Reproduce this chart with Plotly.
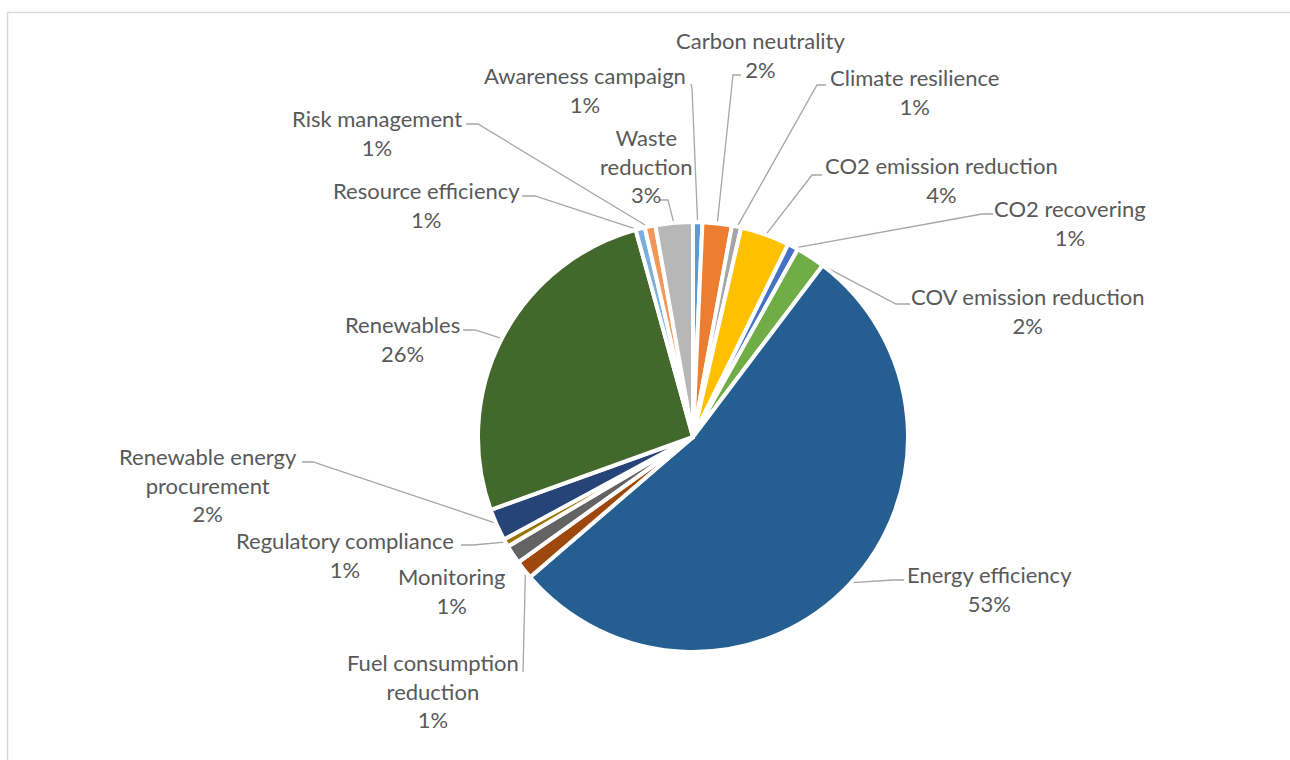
import math
import plotly.graph_objects as go

# ---------------- data ----------------
categories = [
    "Awareness campaign", "Carbon neutrality", "Climate resilience",
    "CO2 emission reduction", "CO2 recovering", "COV emission reduction",
    "Energy efficiency", "Fuel consumption reduction", "Monitoring",
    "Regulatory compliance", "Renewable energy procurement", "Renewables",
    "Resource efficiency", "Risk management", "Waste reduction",
]
values = [0.7, 2.2, 0.7, 3.7, 0.8, 2.2, 53.4, 1.4, 1.4, 0.6, 2.4, 26.2, 0.7, 0.8, 2.8]
label_text = [
    "Awareness campaign", "Carbon neutrality", "Climate resilience",
    "CO2 emission reduction", "CO2 recovering", "COV emission reduction",
    "Energy efficiency", "Fuel consumption<br>reduction", "Monitoring",
    "Regulatory compliance", "Renewable energy<br>procurement", "Renewables",
    "Resource efficiency", "Risk management", "Waste<br>reduction",
]

# ---------------- styles / layout ----------------
colors = [
    "#5B9BD5", "#ED7D31", "#A5A5A5", "#FFC000", "#4472C4", "#70AD47",
    "#255E91", "#9E480E", "#636363", "#997300", "#264478", "#43682B",
    "#7CAFDD", "#F1975A", "#B7B7B7",
]

W, H = 1290, 760
CX, CY, R = 693, 437, 215
EDGE_R = 213

# label block centres (page pixels)
label_pos = [
    (585, 90), (761, 55), (914, 92), (941, 180), (1070, 223), (1028, 311),
    (989, 589), (433, 691), (451, 591), (345, 555), (208, 485), (402, 339),
    (426, 205), (377, 133), (646, 166),
]
# leader line stubs at the label end (page pixels); None = no leader
stubs = [
    [(691, 84), (692, 88)],
    [(741, 75), (733, 75)],
    [(826, 85), (817, 85)],
    [(822, 175), (812, 175)],
    [(993, 214), (982, 214)],
    [(910, 304), (896, 304)],
    [(904, 580), (893, 580)],
    [(523, 672)],
    None,
    [(461, 545), (473, 545)],
    [(302, 462), (313, 462)],
    [(463, 330), (475, 330)],
    [(522, 196), (535, 196)],
    [(466, 124), (478, 124)],
    [(660, 200), (668, 200)],
]

total = sum(values)
pct = [round(v / total * 100) for v in values]

fig = go.Figure()

fig.add_trace(go.Pie(
    labels=categories, values=values, sort=False, direction="clockwise",
    rotation=0,
    marker=dict(colors=colors, line=dict(color="white", width=4)),
    textinfo="none", hoverinfo="label+percent",
    domain=dict(x=[(CX - R) / W, (CX + R) / W], y=[1 - (CY + R) / H, 1 - (CY - R) / H]),
    showlegend=False,
))

# leader lines
cum = 0.0
for i, v in enumerate(values):
    mid = (cum + v / 2) / total * 2 * math.pi
    cum += v
    if stubs[i] is None:
        continue
    ex = CX + EDGE_R * math.sin(mid)
    ey = CY - EDGE_R * math.cos(mid)
    xs = [p[0] for p in stubs[i]] + [ex]
    ys = [p[1] for p in stubs[i]] + [ey]
    fig.add_trace(go.Scatter(x=xs, y=ys, mode="lines",
                             line=dict(color="#A6A6A6", width=1.3),
                             hoverinfo="skip", showlegend=False))

annotations = []
for i in range(len(categories)):
    annotations.append(dict(
        x=label_pos[i][0], y=label_pos[i][1], xref="x", yref="y",
        text=f"{label_text[i]}<br>{pct[i]}%", showarrow=False,
        align="center", xanchor="center", yanchor="middle",
        font=dict(family="Lato", size=22, color="#595959"),
    ))

fig.update_layout(
    width=W, height=H, autosize=False,
    margin=dict(l=0, r=0, t=0, b=0),
    paper_bgcolor="white", plot_bgcolor="white",
    xaxis=dict(range=[0, W], visible=False, fixedrange=True),
    yaxis=dict(range=[H, 0], visible=False, fixedrange=True),
    annotations=annotations,
    shapes=[dict(type="rect", xref="x", yref="y", x0=7.5, y0=12.5, x1=W + 20, y1=H + 20,
                 line=dict(color="#D9D9D9", width=1.5), fillcolor="rgba(0,0,0,0)", layer="below")],
    showlegend=False,
)

fig.write_html("out.html")
